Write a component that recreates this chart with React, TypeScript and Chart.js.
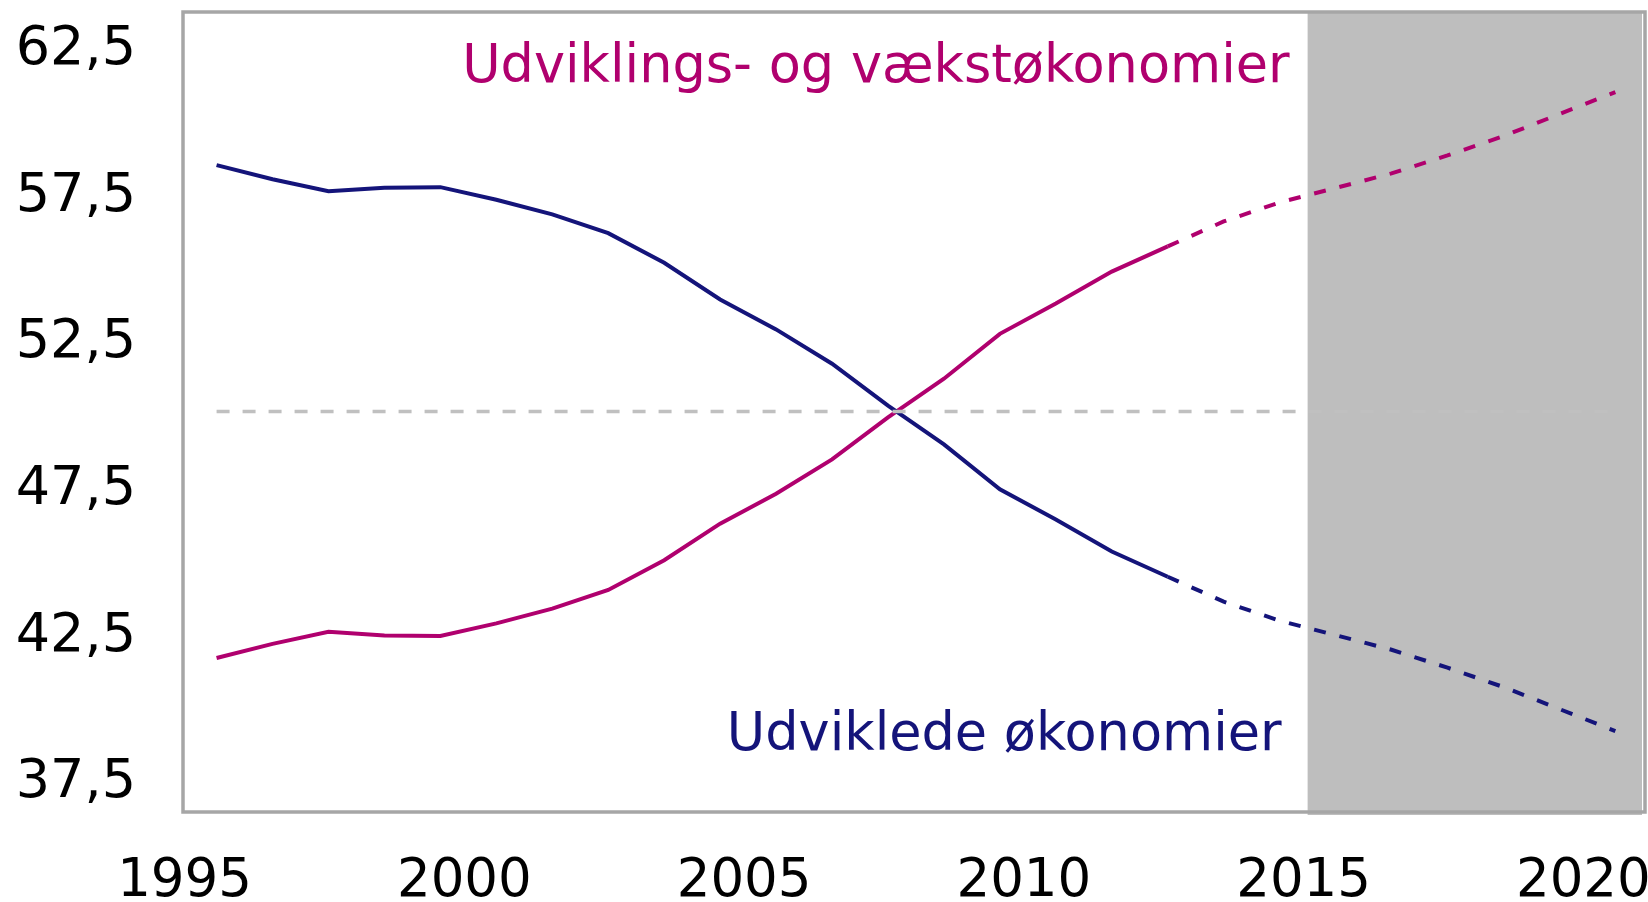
import React, { useEffect, useRef } from 'react';
import { Chart, registerables } from 'chart.js';

Chart.register(...registerables);

// ---- data ----
const years = [
  1995, 1996, 1997, 1998, 1999, 2000, 2001, 2002, 2003, 2004, 2005, 2006, 2007,
  2008, 2009, 2010, 2011, 2012, 2013, 2014, 2015, 2016, 2017, 2018, 2019, 2020,
];
const developed = [
  58.4, 57.92, 57.51, 57.63, 57.65, 57.22, 56.72, 56.08, 55.07, 53.82, 52.8, 51.63, 50.2,
  48.88, 47.35, 46.32, 45.23, 44.37, 43.52, 42.87, 42.38, 41.88, 41.27, 40.61, 39.86, 39.11,
];
const emerging = [
  41.6, 42.08, 42.49, 42.37, 42.35, 42.78, 43.28, 43.92, 44.93, 46.18, 47.2, 48.37, 49.8,
  51.12, 52.65, 53.68, 54.77, 55.63, 56.48, 57.13, 57.62, 58.12, 58.73, 59.39, 60.14, 60.89,
];
const parity = [
  50, 50, 50, 50, 50, 50, 50, 50, 50, 50, 50, 50, 50,
  50, 50, 50, 50, 50, 50, 50, 50, 50, 50, 50, 50, 50,
];
const forecastFromYear = 2012;
const shadeFromYear = 2015;
const xTicks = [1995, 2000, 2005, 2010, 2015, 2020];
const yTicks = [37.5, 42.5, 47.5, 52.5, 57.5, 62.5];
const labelEmerging = 'Udviklings- og vækstøkonomier';
const labelDeveloped = 'Udviklede økonomier';

const NAVY = '#14147A';
const MAGENTA = '#B0006E';
const FONT = '"DejaVu Sans", Verdana, sans-serif';

const toPoints = (vals: number[]) => vals.map((v, i) => ({ x: years[i] + 0.5, y: v }));
const dashFor = (ctx: any) => (years[ctx.p0DataIndex] >= forecastFromYear ? [12, 14] : undefined);

const framePlugin = {
  id: 'frame',
  beforeDatasetsDraw(chart: any) {
    const { ctx, chartArea: a, scales } = chart;
    const xs = scales.x.getPixelForValue(shadeFromYear);
    ctx.save();
    ctx.fillStyle = '#BEBEBE';
    ctx.fillRect(xs, a.top, a.right - 3 - xs, a.bottom - a.top + 3);
    ctx.restore();
  },
  afterDatasetsDraw(chart: any) {
    const { ctx, chartArea: a, scales } = chart;
    const xs = scales.x.getPixelForValue(shadeFromYear);
    ctx.save();
    ctx.strokeStyle = '#A6A6A6';
    ctx.lineWidth = 3.5;
    ctx.strokeRect(a.left, a.top, a.right - a.left, a.bottom - a.top);
    ctx.font = `52.5px ${FONT}`;
    ctx.textAlign = 'right';
    ctx.textBaseline = 'alphabetic';
    ctx.fillStyle = MAGENTA;
    ctx.fillText(labelEmerging, xs - 18, a.top + 70);
    ctx.fillStyle = NAVY;
    ctx.fillText(labelDeveloped, xs - 26, a.bottom - 62);
    ctx.restore();
  },
};

export default function App() {
  const ref = useRef<HTMLCanvasElement | null>(null);
  useEffect(() => {
    if (!ref.current) return;
    const chart = new Chart(ref.current, {
      type: 'line',
      data: {
        datasets: [
          {
            data: toPoints(parity),
            borderColor: '#C0C0C0',
            borderWidth: 3.5,
            borderDash: [13, 13],
            pointRadius: 0,
            fill: false,
          },
          {
            data: toPoints(developed),
            borderColor: NAVY,
            borderWidth: 4,
            pointRadius: 0,
            fill: false,
            segment: { borderDash: dashFor },
          },
          {
            data: toPoints(emerging),
            borderColor: MAGENTA,
            borderWidth: 4,
            pointRadius: 0,
            fill: false,
            segment: { borderDash: dashFor },
          },
        ],
      },
      options: {
        responsive: false,
        devicePixelRatio: 1,
        animation: false,
        events: [],
        layout: { padding: { top: 12, right: 3, left: 0, bottom: 0 } },
        plugins: { legend: { display: false }, tooltip: { enabled: false } },
        scales: {
          x: {
            type: 'linear',
            min: 1994.9,
            max: 2021.03,
            grid: { display: false, drawTicks: false },
            border: { display: false },
            afterBuildTicks: (s: any) => {
              s.ticks = xTicks.map((v) => ({ value: v }));
            },
            afterFit: (s: any) => {
              s.height = 90;
              s.paddingLeft = 0;
              s.paddingRight = 0;
              s.paddingTop = 0;
              s.paddingBottom = 0;
            },
            ticks: {
              autoSkip: false,
              maxRotation: 0,
              minRotation: 0,
              padding: 38,
              labelOffset: -4,
              color: '#000',
              font: { family: FONT, size: 53 },
              callback: (v: any) => String(v),
            },
          },
          y: {
            type: 'linear',
            min: 36.35,
            max: 63.62,
            grid: { display: false, drawTicks: false },
            border: { display: false },
            afterBuildTicks: (s: any) => {
              s.ticks = yTicks.map((v) => ({ value: v }));
            },
            afterFit: (s: any) => {
              s.width = 183;
              s.paddingLeft = 0;
              s.paddingRight = 0;
              s.paddingTop = 0;
              s.paddingBottom = 0;
            },
            ticks: {
              padding: 47,
              labelOffset: 5,
              color: '#000',
              font: { family: FONT, size: 54 },
              callback: (v: any) => Number(v).toFixed(1).replace('.', ','),
            },
          },
        },
      },
      plugins: [framePlugin],
    } as any);
    return () => chart.destroy();
  }, []);
  return (
    <div style={{ position: 'absolute', left: 0, top: 0, width: 1648, height: 902 }}>
      <canvas ref={ref} width={1648} height={902} style={{ display: 'block' }} />
    </div>
  );
}
